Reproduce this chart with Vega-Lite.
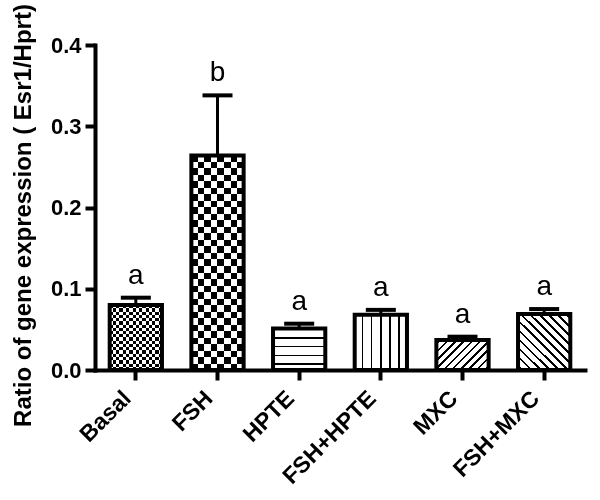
{
  "$schema": "https://vega.github.io/schema/vega-lite/v6.json",
  "width": 490,
  "height": 325,
  "autosize": "none",
  "padding": {"left": 95, "top": 45, "right": 15, "bottom": 130},
  "background": "white",
  "config": {
    "view": {"stroke": null},
    "axis": {
      "grid": false,
      "domainColor": "black",
      "domainWidth": 4,
      "domainCap": "square",
      "tickColor": "black",
      "tickWidth": 4,
      "tickSize": 10,
      "labelFont": "Liberation Sans",
      "labelFontWeight": "bold",
      "labelFontSize": 22,
      "labelColor": "black",
      "titleFont": "Liberation Sans",
      "titleFontWeight": "bold",
      "titleFontSize": 24,
      "titleColor": "black"
    }
  },
  "data": {
    "values": [
      {"group": "Basal", "mean": 0.080, "upper": 0.089, "label": "a"},
      {"group": "FSH", "mean": 0.264, "upper": 0.338, "label": "b"},
      {"group": "HPTE", "mean": 0.051, "upper": 0.057, "label": "a"},
      {"group": "FSH+HPTE", "mean": 0.068, "upper": 0.074, "label": "a"},
      {"group": "MXC", "mean": 0.037, "upper": 0.041, "label": "a"},
      {"group": "FSH+MXC", "mean": 0.069, "upper": 0.075, "label": "a"}
    ]
  },
  "encoding": {
    "x": {
      "field": "group",
      "type": "nominal",
      "sort": ["Basal", "FSH", "HPTE", "FSH+HPTE", "MXC", "FSH+MXC"],
      "scale": {"paddingInner": 0.36, "paddingOuter": 0.18},
      "axis": {"title": null, "labelAngle": -45, "labelAlign": "right", "labelBaseline": "bottom", "labelPadding": 23, "labelFontSize": 23}
    }
  },
  "layer": [
    {
      "mark": {"type": "bar"},
      "encoding": {
        "y": {"field": "mean", "type": "quantitative", "scale": {"domain": [0, 0.4], "nice": false},
          "axis": {"title": "Ratio of gene expression ( Esr1/Hprt)", "values": [0, 0.1, 0.2, 0.3, 0.4], "format": ".1f", "labelPadding": 4, "titlePadding": 15, "titleY": 170}},
        "fill": {
          "condition": [
            {"test": "datum.group === 'Basal'", "value": {"gradient": "linear", "x1": 0, "y1": 0, "x2": 0, "y2": 1, "stops": [
              {"offset": 0, "color": "#000"}, {"offset": 0.05, "color": "#000"}, {"offset": 0.05, "color": "#fff"}, {"offset": 0.1, "color": "#fff"},
              {"offset": 0.1, "color": "#000"}, {"offset": 0.15, "color": "#000"}, {"offset": 0.15, "color": "#fff"}, {"offset": 0.2, "color": "#fff"},
              {"offset": 0.2, "color": "#000"}, {"offset": 0.25, "color": "#000"}, {"offset": 0.25, "color": "#fff"}, {"offset": 0.3, "color": "#fff"},
              {"offset": 0.3, "color": "#000"}, {"offset": 0.35, "color": "#000"}, {"offset": 0.35, "color": "#fff"}, {"offset": 0.4, "color": "#fff"},
              {"offset": 0.4, "color": "#000"}, {"offset": 0.45, "color": "#000"}, {"offset": 0.45, "color": "#fff"}, {"offset": 0.5, "color": "#fff"},
              {"offset": 0.5, "color": "#000"}, {"offset": 0.55, "color": "#000"}, {"offset": 0.55, "color": "#fff"}, {"offset": 0.6, "color": "#fff"},
              {"offset": 0.6, "color": "#000"}, {"offset": 0.65, "color": "#000"}, {"offset": 0.65, "color": "#fff"}, {"offset": 0.7, "color": "#fff"},
              {"offset": 0.7, "color": "#000"}, {"offset": 0.75, "color": "#000"}, {"offset": 0.75, "color": "#fff"}, {"offset": 0.8, "color": "#fff"},
              {"offset": 0.8, "color": "#000"}, {"offset": 0.85, "color": "#000"}, {"offset": 0.85, "color": "#fff"}, {"offset": 0.9, "color": "#fff"},
              {"offset": 0.9, "color": "#000"}, {"offset": 0.95, "color": "#000"}, {"offset": 0.95, "color": "#fff"}, {"offset": 1, "color": "#fff"}
            ]}},
            {"test": "datum.group === 'FSH'", "value": {"gradient": "linear", "x1": 0, "y1": 0, "x2": 0, "y2": 1, "stops": [
              {"offset": 0, "color": "#000"}, {"offset": 0.0303, "color": "#000"}, {"offset": 0.0303, "color": "#fff"}, {"offset": 0.0606, "color": "#fff"},
              {"offset": 0.0606, "color": "#000"}, {"offset": 0.0909, "color": "#000"}, {"offset": 0.0909, "color": "#fff"}, {"offset": 0.1212, "color": "#fff"},
              {"offset": 0.1212, "color": "#000"}, {"offset": 0.1515, "color": "#000"}, {"offset": 0.1515, "color": "#fff"}, {"offset": 0.1818, "color": "#fff"},
              {"offset": 0.1818, "color": "#000"}, {"offset": 0.2121, "color": "#000"}, {"offset": 0.2121, "color": "#fff"}, {"offset": 0.2424, "color": "#fff"},
              {"offset": 0.2424, "color": "#000"}, {"offset": 0.2727, "color": "#000"}, {"offset": 0.2727, "color": "#fff"}, {"offset": 0.303, "color": "#fff"},
              {"offset": 0.303, "color": "#000"}, {"offset": 0.3333, "color": "#000"}, {"offset": 0.3333, "color": "#fff"}, {"offset": 0.3636, "color": "#fff"},
              {"offset": 0.3636, "color": "#000"}, {"offset": 0.3939, "color": "#000"}, {"offset": 0.3939, "color": "#fff"}, {"offset": 0.4242, "color": "#fff"},
              {"offset": 0.4242, "color": "#000"}, {"offset": 0.4545, "color": "#000"}, {"offset": 0.4545, "color": "#fff"}, {"offset": 0.4848, "color": "#fff"},
              {"offset": 0.4848, "color": "#000"}, {"offset": 0.5152, "color": "#000"}, {"offset": 0.5152, "color": "#fff"}, {"offset": 0.5455, "color": "#fff"},
              {"offset": 0.5455, "color": "#000"}, {"offset": 0.5758, "color": "#000"}, {"offset": 0.5758, "color": "#fff"}, {"offset": 0.6061, "color": "#fff"},
              {"offset": 0.6061, "color": "#000"}, {"offset": 0.6364, "color": "#000"}, {"offset": 0.6364, "color": "#fff"}, {"offset": 0.6667, "color": "#fff"},
              {"offset": 0.6667, "color": "#000"}, {"offset": 0.697, "color": "#000"}, {"offset": 0.697, "color": "#fff"}, {"offset": 0.7273, "color": "#fff"},
              {"offset": 0.7273, "color": "#000"}, {"offset": 0.7576, "color": "#000"}, {"offset": 0.7576, "color": "#fff"}, {"offset": 0.7879, "color": "#fff"},
              {"offset": 0.7879, "color": "#000"}, {"offset": 0.8182, "color": "#000"}, {"offset": 0.8182, "color": "#fff"}, {"offset": 0.8485, "color": "#fff"},
              {"offset": 0.8485, "color": "#000"}, {"offset": 0.8788, "color": "#000"}, {"offset": 0.8788, "color": "#fff"}, {"offset": 0.9091, "color": "#fff"},
              {"offset": 0.9091, "color": "#000"}, {"offset": 0.9394, "color": "#000"}, {"offset": 0.9394, "color": "#fff"}, {"offset": 0.9697, "color": "#fff"},
              {"offset": 0.9697, "color": "#000"}, {"offset": 1, "color": "#000"}
            ]}},
            {"test": "datum.group === 'HPTE'", "value": {"gradient": "linear", "x1": 0, "y1": 0, "x2": 0, "y2": 1, "stops": [
              {"offset": 0, "color": "#fff"}, {"offset": 0.206, "color": "#fff"}, {"offset": 0.206, "color": "#000"}, {"offset": 0.244, "color": "#000"}, {"offset": 0.244, "color": "#fff"},
              {"offset": 0.416, "color": "#fff"}, {"offset": 0.416, "color": "#000"}, {"offset": 0.454, "color": "#000"}, {"offset": 0.454, "color": "#fff"},
              {"offset": 0.633, "color": "#fff"}, {"offset": 0.633, "color": "#000"}, {"offset": 0.671, "color": "#000"}, {"offset": 0.671, "color": "#fff"},
              {"offset": 0.834, "color": "#fff"}, {"offset": 0.834, "color": "#000"}, {"offset": 0.872, "color": "#000"}, {"offset": 0.872, "color": "#fff"},
              {"offset": 1, "color": "#fff"}
            ]}},
            {"test": "datum.group === 'FSH+HPTE'", "value": {"gradient": "linear", "x1": 0, "y1": 0, "x2": 1, "y2": 0, "stops": [
              {"offset": 0, "color": "#fff"}, {"offset": 0.133, "color": "#fff"}, {"offset": 0.133, "color": "#000"}, {"offset": 0.163, "color": "#000"}, {"offset": 0.163, "color": "#fff"},
              {"offset": 0.306, "color": "#fff"}, {"offset": 0.306, "color": "#000"}, {"offset": 0.336, "color": "#000"}, {"offset": 0.336, "color": "#fff"},
              {"offset": 0.485, "color": "#fff"}, {"offset": 0.485, "color": "#000"}, {"offset": 0.515, "color": "#000"}, {"offset": 0.515, "color": "#fff"},
              {"offset": 0.664, "color": "#fff"}, {"offset": 0.664, "color": "#000"}, {"offset": 0.694, "color": "#000"}, {"offset": 0.694, "color": "#fff"},
              {"offset": 0.837, "color": "#fff"}, {"offset": 0.837, "color": "#000"}, {"offset": 0.867, "color": "#000"}, {"offset": 0.867, "color": "#fff"},
              {"offset": 1, "color": "#fff"}
            ]}},
            {"test": "datum.group === 'MXC'", "value": {"gradient": "linear", "x1": 0, "y1": 0, "x2": 1.183, "y2": 0.683, "stops": [
              {"offset": 0, "color": "#fff"},
              {"offset": 0.035, "color": "#fff"}, {"offset": 0.035, "color": "#000"}, {"offset": 0.065, "color": "#000"}, {"offset": 0.065, "color": "#fff"},
              {"offset": 0.135, "color": "#fff"}, {"offset": 0.135, "color": "#000"}, {"offset": 0.165, "color": "#000"}, {"offset": 0.165, "color": "#fff"},
              {"offset": 0.235, "color": "#fff"}, {"offset": 0.235, "color": "#000"}, {"offset": 0.265, "color": "#000"}, {"offset": 0.265, "color": "#fff"},
              {"offset": 0.335, "color": "#fff"}, {"offset": 0.335, "color": "#000"}, {"offset": 0.365, "color": "#000"}, {"offset": 0.365, "color": "#fff"},
              {"offset": 0.435, "color": "#fff"}, {"offset": 0.435, "color": "#000"}, {"offset": 0.465, "color": "#000"}, {"offset": 0.465, "color": "#fff"},
              {"offset": 0.535, "color": "#fff"}, {"offset": 0.535, "color": "#000"}, {"offset": 0.565, "color": "#000"}, {"offset": 0.565, "color": "#fff"},
              {"offset": 0.635, "color": "#fff"}, {"offset": 0.635, "color": "#000"}, {"offset": 0.665, "color": "#000"}, {"offset": 0.665, "color": "#fff"},
              {"offset": 0.735, "color": "#fff"}, {"offset": 0.735, "color": "#000"}, {"offset": 0.765, "color": "#000"}, {"offset": 0.765, "color": "#fff"},
              {"offset": 0.835, "color": "#fff"}, {"offset": 0.835, "color": "#000"}, {"offset": 0.865, "color": "#000"}, {"offset": 0.865, "color": "#fff"},
              {"offset": 0.935, "color": "#fff"}, {"offset": 0.935, "color": "#000"}, {"offset": 0.965, "color": "#000"}, {"offset": 0.965, "color": "#fff"},
              {"offset": 1, "color": "#fff"}
            ]}},
            {"test": "datum.group === 'FSH+MXC'", "value": {"gradient": "linear", "x1": 0, "y1": 1, "x2": 0.962, "y2": -0.036, "stops": [
              {"offset": 0, "color": "#fff"},
              {"offset": 0.029, "color": "#fff"}, {"offset": 0.029, "color": "#000"}, {"offset": 0.054, "color": "#000"}, {"offset": 0.054, "color": "#fff"},
              {"offset": 0.112, "color": "#fff"}, {"offset": 0.112, "color": "#000"}, {"offset": 0.137, "color": "#000"}, {"offset": 0.137, "color": "#fff"},
              {"offset": 0.196, "color": "#fff"}, {"offset": 0.196, "color": "#000"}, {"offset": 0.221, "color": "#000"}, {"offset": 0.221, "color": "#fff"},
              {"offset": 0.279, "color": "#fff"}, {"offset": 0.279, "color": "#000"}, {"offset": 0.304, "color": "#000"}, {"offset": 0.304, "color": "#fff"},
              {"offset": 0.362, "color": "#fff"}, {"offset": 0.362, "color": "#000"}, {"offset": 0.387, "color": "#000"}, {"offset": 0.387, "color": "#fff"},
              {"offset": 0.446, "color": "#fff"}, {"offset": 0.446, "color": "#000"}, {"offset": 0.471, "color": "#000"}, {"offset": 0.471, "color": "#fff"},
              {"offset": 0.529, "color": "#fff"}, {"offset": 0.529, "color": "#000"}, {"offset": 0.554, "color": "#000"}, {"offset": 0.554, "color": "#fff"},
              {"offset": 0.612, "color": "#fff"}, {"offset": 0.612, "color": "#000"}, {"offset": 0.637, "color": "#000"}, {"offset": 0.637, "color": "#fff"},
              {"offset": 0.696, "color": "#fff"}, {"offset": 0.696, "color": "#000"}, {"offset": 0.721, "color": "#000"}, {"offset": 0.721, "color": "#fff"},
              {"offset": 0.779, "color": "#fff"}, {"offset": 0.779, "color": "#000"}, {"offset": 0.804, "color": "#000"}, {"offset": 0.804, "color": "#fff"},
              {"offset": 0.862, "color": "#fff"}, {"offset": 0.862, "color": "#000"}, {"offset": 0.887, "color": "#000"}, {"offset": 0.887, "color": "#fff"},
              {"offset": 0.946, "color": "#fff"}, {"offset": 0.946, "color": "#000"}, {"offset": 0.971, "color": "#000"}, {"offset": 0.971, "color": "#fff"},
              {"offset": 1, "color": "#fff"}
            ]}}
          ],
          "value": "white"
        }
      }
    },
    {
      "transform": [{"filter": "datum.group === 'Basal' || datum.group === 'FSH'"}],
      "mark": {"type": "bar", "blend": "difference"},
      "encoding": {
        "y": {"field": "mean", "type": "quantitative", "scale": {"domain": [0, 0.4], "nice": false},
          "axis": {"title": "Ratio of gene expression ( Esr1/Hprt)", "values": [0, 0.1, 0.2, 0.3, 0.4], "format": ".1f", "labelPadding": 4, "titlePadding": 15, "titleY": 170}},
        "fill": {
          "condition": [
            {"test": "datum.group === 'Basal'", "value": {"gradient": "linear", "x1": 0, "y1": 0, "x2": 1, "y2": 0, "stops": [
              {"offset": 0, "color": "#000"}, {"offset": 0.0625, "color": "#000"}, {"offset": 0.0625, "color": "#fff"}, {"offset": 0.125, "color": "#fff"},
              {"offset": 0.125, "color": "#000"}, {"offset": 0.1875, "color": "#000"}, {"offset": 0.1875, "color": "#fff"}, {"offset": 0.25, "color": "#fff"},
              {"offset": 0.25, "color": "#000"}, {"offset": 0.3125, "color": "#000"}, {"offset": 0.3125, "color": "#fff"}, {"offset": 0.375, "color": "#fff"},
              {"offset": 0.375, "color": "#000"}, {"offset": 0.4375, "color": "#000"}, {"offset": 0.4375, "color": "#fff"}, {"offset": 0.5, "color": "#fff"},
              {"offset": 0.5, "color": "#000"}, {"offset": 0.5625, "color": "#000"}, {"offset": 0.5625, "color": "#fff"}, {"offset": 0.625, "color": "#fff"},
              {"offset": 0.625, "color": "#000"}, {"offset": 0.6875, "color": "#000"}, {"offset": 0.6875, "color": "#fff"}, {"offset": 0.75, "color": "#fff"},
              {"offset": 0.75, "color": "#000"}, {"offset": 0.8125, "color": "#000"}, {"offset": 0.8125, "color": "#fff"}, {"offset": 0.875, "color": "#fff"},
              {"offset": 0.875, "color": "#000"}, {"offset": 0.9375, "color": "#000"}, {"offset": 0.9375, "color": "#fff"}, {"offset": 1, "color": "#fff"}
            ]}},
            {"test": "datum.group === 'FSH'", "value": {"gradient": "linear", "x1": 0, "y1": 0, "x2": 1, "y2": 0, "stops": [
              {"offset": 0, "color": "#000"}, {"offset": 0.125, "color": "#000"}, {"offset": 0.125, "color": "#fff"}, {"offset": 0.25, "color": "#fff"},
              {"offset": 0.25, "color": "#000"}, {"offset": 0.375, "color": "#000"}, {"offset": 0.375, "color": "#fff"}, {"offset": 0.5, "color": "#fff"},
              {"offset": 0.5, "color": "#000"}, {"offset": 0.625, "color": "#000"}, {"offset": 0.625, "color": "#fff"}, {"offset": 0.75, "color": "#fff"},
              {"offset": 0.75, "color": "#000"}, {"offset": 0.875, "color": "#000"}, {"offset": 0.875, "color": "#fff"}, {"offset": 1, "color": "#fff"}
            ]}}
          ],
          "value": "white"
        }
      }
    },
    {
      "mark": {"type": "rule", "color": "black", "strokeWidth": 3},
      "encoding": {
        "y": {"field": "mean", "type": "quantitative", "scale": {"domain": [0, 0.4], "nice": false},
          "axis": {"title": "Ratio of gene expression ( Esr1/Hprt)", "values": [0, 0.1, 0.2, 0.3, 0.4], "format": ".1f", "labelPadding": 4, "titlePadding": 15, "titleY": 170}},
        "y2": {"field": "upper"}
      }
    },
    {
      "mark": {"type": "bar", "filled": false, "stroke": "black", "strokeWidth": 4},
      "encoding": {
        "y": {"field": "mean", "type": "quantitative", "scale": {"domain": [0, 0.4], "nice": false},
          "axis": {"title": "Ratio of gene expression ( Esr1/Hprt)", "values": [0, 0.1, 0.2, 0.3, 0.4], "format": ".1f", "labelPadding": 4, "titlePadding": 15, "titleY": 170}}
      }
    },
    {
      "mark": {"type": "tick", "orient": "horizontal", "size": 30, "thickness": 4, "color": "black", "opacity": 1},
      "encoding": {
        "y": {"field": "upper", "type": "quantitative", "scale": {"domain": [0, 0.4], "nice": false},
          "axis": {"title": "Ratio of gene expression ( Esr1/Hprt)", "values": [0, 0.1, 0.2, 0.3, 0.4], "format": ".1f", "labelPadding": 4, "titlePadding": 15, "titleY": 170}}
      }
    },
    {
      "mark": {"type": "text", "dy": -14, "baseline": "alphabetic", "fontSize": 28, "font": "Liberation Sans", "color": "black"},
      "encoding": {
        "y": {"field": "upper", "type": "quantitative", "scale": {"domain": [0, 0.4], "nice": false},
          "axis": {"title": "Ratio of gene expression ( Esr1/Hprt)", "values": [0, 0.1, 0.2, 0.3, 0.4], "format": ".1f", "labelPadding": 4, "titlePadding": 15, "titleY": 170}},
        "text": {"field": "label"}
      }
    }
  ]
}
